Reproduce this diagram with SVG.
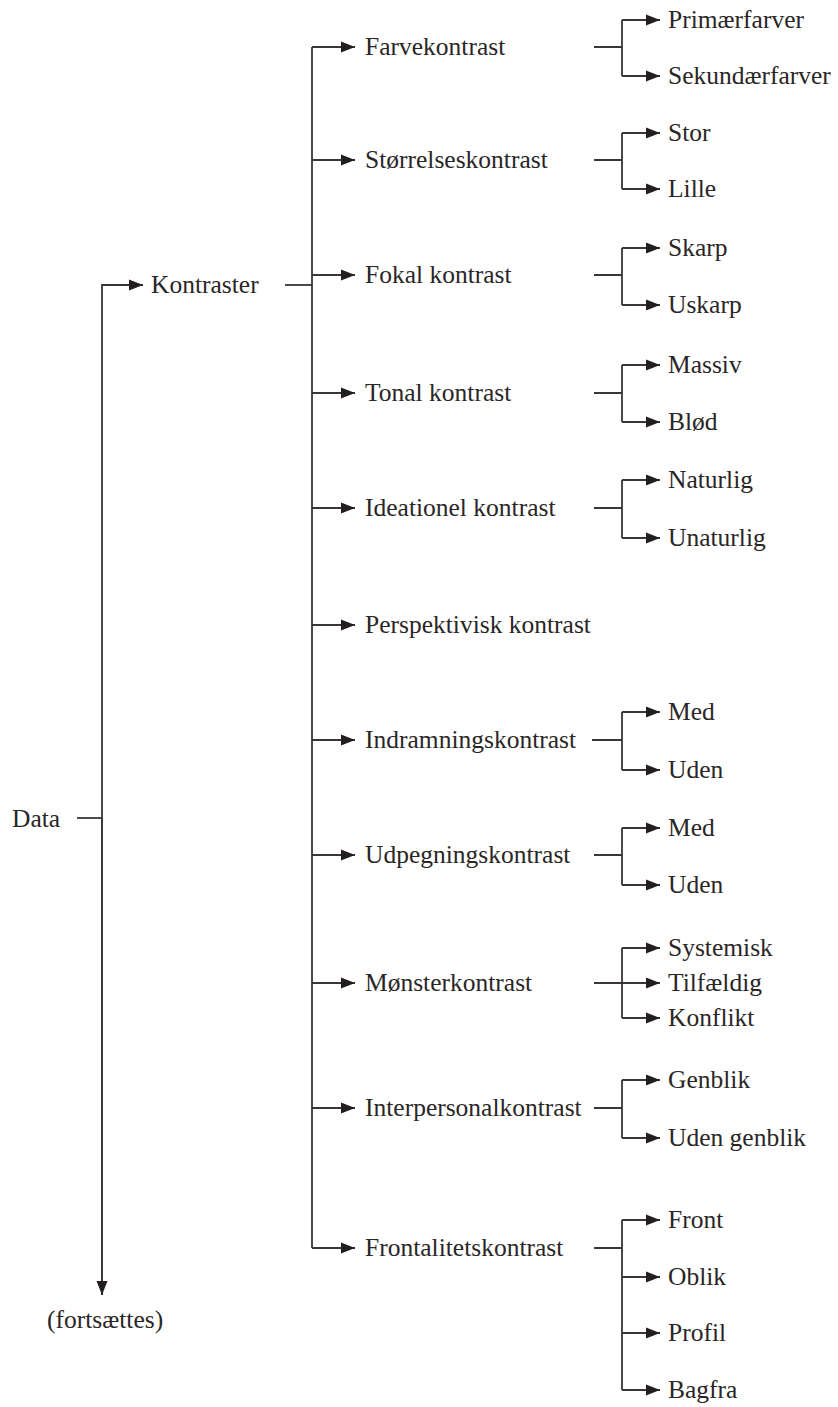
<svg xmlns="http://www.w3.org/2000/svg" width="838" height="1407" viewBox="0 0 838 1407">
<style>
text{font-family:"Liberation Serif","DejaVu Serif",serif;font-size:25.5px;fill:#2a2626}
.c{fill:none;stroke:#3a3636;stroke-width:1.8}
.a{marker-end:url(#ah)}
</style>
<defs>
<marker id="ah" markerUnits="userSpaceOnUse" markerWidth="15" markerHeight="12" refX="14" refY="6" orient="auto">
<path d="M0,0.5 L14,6 L0,11.5 z" fill="#231f1f"/>
</marker>
</defs>
<rect width="838" height="1407" fill="#fff"/>
<g id="connectors">
<path class="c" d="M77,818 H102"/>
<path class="c a" d="M102,1295 V285 H143"/>
<path class="c a" d="M102,818 V1295"/>
<path class="c" d="M285,285 H312"/>
<path class="c" d="M312,47 V1248"/>
<path class="c a" d="M312,47 H355"/>
<path class="c a" d="M312,160 H355"/>
<path class="c a" d="M312,275 H355"/>
<path class="c a" d="M312,393 H355"/>
<path class="c a" d="M312,508 H355"/>
<path class="c a" d="M312,625 H355"/>
<path class="c a" d="M312,740 H355"/>
<path class="c a" d="M312,855 H355"/>
<path class="c a" d="M312,983 H355"/>
<path class="c a" d="M312,1108 H355"/>
<path class="c a" d="M312,1248 H355"/>
<path class="c" d="M594,47 H622 M622,20 V76"/>
<path class="c a" d="M622,20 H660"/><path class="c a" d="M622,76 H660"/>
<path class="c" d="M594,160 H622 M622,133 V189"/>
<path class="c a" d="M622,133 H660"/><path class="c a" d="M622,189 H660"/>
<path class="c" d="M594,275 H622 M622,248 V305"/>
<path class="c a" d="M622,248 H660"/><path class="c a" d="M622,305 H660"/>
<path class="c" d="M594,393 H622 M622,365 V422"/>
<path class="c a" d="M622,365 H660"/><path class="c a" d="M622,422 H660"/>
<path class="c" d="M594,508 H622 M622,480 V538"/>
<path class="c a" d="M622,480 H660"/><path class="c a" d="M622,538 H660"/>
<path class="c" d="M592,740 H622 M622,712 V770"/>
<path class="c a" d="M622,712 H660"/><path class="c a" d="M622,770 H660"/>
<path class="c" d="M594,855 H622 M622,828 V885"/>
<path class="c a" d="M622,828 H660"/><path class="c a" d="M622,885 H660"/>
<path class="c" d="M594,983 H622 M622,948 V1018"/>
<path class="c a" d="M622,948 H660"/><path class="c a" d="M622,983 H660"/><path class="c a" d="M622,1018 H660"/>
<path class="c" d="M594,1108 H622 M622,1080 V1138"/>
<path class="c a" d="M622,1080 H660"/><path class="c a" d="M622,1138 H660"/>
<path class="c" d="M594,1248 H622 M622,1220 V1390"/>
<path class="c a" d="M622,1220 H660"/><path class="c a" d="M622,1277 H660"/><path class="c a" d="M622,1333 H660"/><path class="c a" d="M622,1390 H660"/>
</g>
<g id="n-data"><text x="12" y="827">Data</text></g>
<g id="n-fortsaettes"><text x="47" y="1328">(fortsættes)</text></g>
<g id="n-kontraster"><text x="151" y="293">Kontraster</text></g>
<g id="n-farve"><text x="365" y="55">Farvekontrast</text></g>
<g id="n-stoerrelse"><text x="365" y="168">Størrelseskontrast</text></g>
<g id="n-fokal"><text x="365" y="283">Fokal kontrast</text></g>
<g id="n-tonal"><text x="365" y="401">Tonal kontrast</text></g>
<g id="n-ideationel"><text x="365" y="516">Ideationel kontrast</text></g>
<g id="n-perspektivisk"><text x="365" y="633">Perspektivisk kontrast</text></g>
<g id="n-indramning"><text x="365" y="748">Indramningskontrast</text></g>
<g id="n-udpegning"><text x="365" y="863">Udpegningskontrast</text></g>
<g id="n-moenster"><text x="365" y="991">Mønsterkontrast</text></g>
<g id="n-interpersonal"><text x="365" y="1116">Interpersonalkontrast</text></g>
<g id="n-frontalitet"><text x="365" y="1256">Frontalitetskontrast</text></g>
<g id="n-primaer"><text x="668" y="28">Primærfarver</text></g>
<g id="n-sekundaer"><text x="668" y="84">Sekundærfarver</text></g>
<g id="n-stor"><text x="668" y="141">Stor</text></g>
<g id="n-lille"><text x="668" y="197">Lille</text></g>
<g id="n-skarp"><text x="668" y="256">Skarp</text></g>
<g id="n-uskarp"><text x="668" y="313">Uskarp</text></g>
<g id="n-massiv"><text x="668" y="373">Massiv</text></g>
<g id="n-bloed"><text x="668" y="430">Blød</text></g>
<g id="n-naturlig"><text x="668" y="488">Naturlig</text></g>
<g id="n-unaturlig"><text x="668" y="546">Unaturlig</text></g>
<g id="n-med1"><text x="668" y="720">Med</text></g>
<g id="n-uden1"><text x="668" y="778">Uden</text></g>
<g id="n-med2"><text x="668" y="836">Med</text></g>
<g id="n-uden2"><text x="668" y="893">Uden</text></g>
<g id="n-systemisk"><text x="668" y="956">Systemisk</text></g>
<g id="n-tilfaeldig"><text x="668" y="991">Tilfældig</text></g>
<g id="n-konflikt"><text x="668" y="1026">Konflikt</text></g>
<g id="n-genblik"><text x="668" y="1088">Genblik</text></g>
<g id="n-udengenblik"><text x="668" y="1146">Uden genblik</text></g>
<g id="n-front"><text x="668" y="1228">Front</text></g>
<g id="n-oblik"><text x="668" y="1285">Oblik</text></g>
<g id="n-profil"><text x="668" y="1341">Profil</text></g>
<g id="n-bagfra"><text x="668" y="1398">Bagfra</text></g>
</svg>
